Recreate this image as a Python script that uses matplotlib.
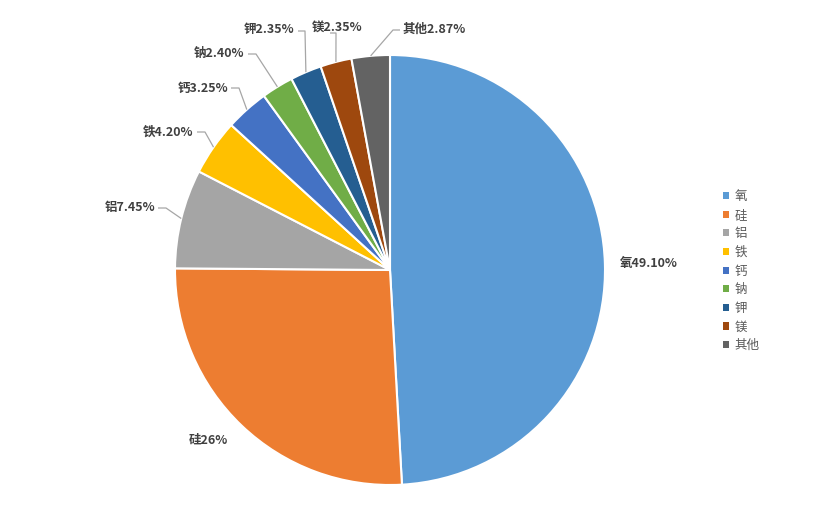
import matplotlib
matplotlib.use("Agg")
import matplotlib.pyplot as plt
from matplotlib.patches import Patch
import numpy as np

plt.rcParams['font.family'] = ['Noto Sans CJK SC', 'DejaVu Sans']

categories = ['氧', '硅', '铝', '铁', '钙', '钠', '钾', '镁', '其他']
values = [49.10, 26, 7.45, 4.20, 3.25, 2.40, 2.35, 2.35, 2.87]
value_labels = ['49.10%', '26%', '7.45%', '4.20%', '3.25%', '2.40%', '2.35%', '2.35%', '2.87%']
colors = ['#5B9BD5', '#ED7D31', '#A5A5A5', '#FFC000', '#4472C4',
          '#70AD47', '#255E91', '#9E480E', '#636363']

W, H = 830, 518
CX, CY, R = 390, 270, 215  # pie centre and radius in pixels (from top)

fig = plt.figure(figsize=(W / 100, H / 100), dpi=100)
ax = fig.add_axes([0, 0, 1, 1])

wedges, _ = ax.pie(values, colors=colors, startangle=90, counterclock=False,
                   radius=1, center=(0, 0),
                   wedgeprops=dict(edgecolor='white', linewidth=1.5))

ax.set_xlim(-CX / R, (W - CX) / R)
ax.set_ylim(-(H - CY) / R, CY / R)
ax.set_aspect('equal', adjustable='datalim')
ax.axis('off')


def px(x, y):
    return ((x - CX) / R, (CY - y) / R)


# label layout: (text x, text y, ha, line start, elbow) in pixels; None = no leader
layout = [
    (620, 263, 'left', None, None),
    (189, 440, 'left', None, None),
    (155, 208, 'right', (158, 208), (166, 208)),
    (193, 132, 'right', (197, 132), (205, 132)),
    (228, 88, 'right', (231, 88), (239, 88)),
    (244, 54, 'right', (248, 54), (256, 54)),
    (294, 30, 'right', (298, 31), (305, 31)),
    (312, 27, 'left', (330, 33), (336, 33)),
    (403, 29, 'left', (400, 30), (393, 30)),
]

txt_color = '#404040'
for w, cat, vl, (tx, ty, ha, p0, p1) in zip(wedges, categories, value_labels, layout):
    x, y = px(tx, ty)
    ax.text(x, y, cat + vl, ha=ha, va='center', fontsize=9,
            fontweight='bold', color=txt_color)
    if p0 is not None:
        mid = np.deg2rad((w.theta1 + w.theta2) / 2)
        ex, ey = 1.0 * np.cos(mid), 1.0 * np.sin(mid)
        a = px(*p0)
        b = px(*p1)
        ax.plot([a[0], b[0], ex], [a[1], b[1], ey], color='#A6A6A6',
                linewidth=0.9, solid_capstyle='butt')

handles = [Patch(facecolor=c, edgecolor='none') for c in colors]
leg = fig.legend(handles, categories, loc='upper left',
                 bbox_to_anchor=(718 / W, 1 - 185 / H),
                 frameon=False, fontsize=9, handlelength=0.5, handleheight=0.5,
                 handletextpad=0.4, labelspacing=0.45, borderaxespad=0)
for t in leg.get_texts():
    t.set_color('#595959')

fig.savefig('out.png', dpi=100, facecolor='white')
